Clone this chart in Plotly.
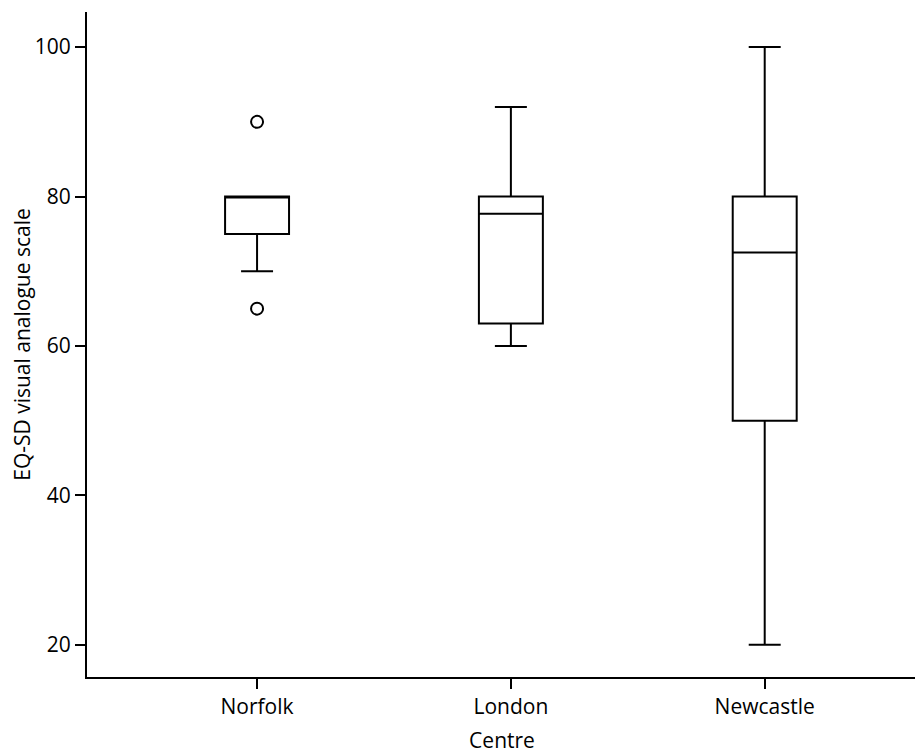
import plotly.graph_objects as go

centres = ["Norfolk", "London", "Newcastle"]
q1 = [75, 63, 50]
median = [80, 77.7, 72.5]
q3 = [80, 80, 80]
lower_whisker = [70, 60, 20]
upper_whisker = [80, 92, 100]
outlier_x = ["Norfolk", "Norfolk"]
outlier_y = [90, 65]

FONT = "Open Sans"

fig = go.Figure()
fig.add_trace(go.Box(
    x=centres, q1=q1, median=median, q3=q3,
    lowerfence=lower_whisker, upperfence=upper_whisker,
    fillcolor="white", line=dict(color="black", width=2),
    width=0.252, whiskerwidth=0.5, boxpoints=False, showlegend=False,
))
fig.add_trace(go.Scatter(
    x=outlier_x, y=outlier_y, mode="markers",
    marker=dict(symbol="circle-open", size=12, color="black", line=dict(width=2)),
    showlegend=False,
))

fig.update_layout(
    width=915, height=746,
    margin=dict(l=79, r=6, t=4, b=77),
    plot_bgcolor="white", paper_bgcolor="white",
    font=dict(family=FONT, size=21, color="black"),
    xaxis=dict(
        type="category", range=[-0.67, 2.6],
        showline=True, linecolor="black", linewidth=2,
        ticks="outside", ticklen=10, tickwidth=2, tickcolor="black",
        showgrid=False, zeroline=False, automargin=False,
        title=dict(text="Centre", standoff=16, font=dict(size=21)),
    ),
    yaxis=dict(
        range=[15.7, 104.7],
        tickvals=[20, 40, 60, 80, 100],
        showline=True, linecolor="black", linewidth=2,
        ticks="outside", ticklen=10, tickwidth=2, tickcolor="black",
        showgrid=False, zeroline=False, automargin=False,
        title=dict(text="EQ-SD visual analogue scale", standoff=10, font=dict(size=21)),
    ),
)

fig.write_html("out.html")
